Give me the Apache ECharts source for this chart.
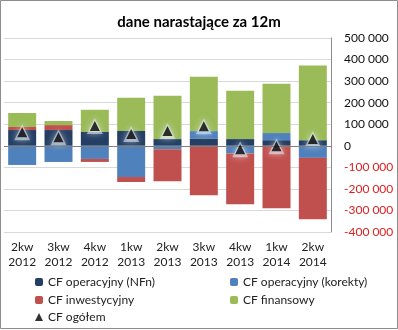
<!DOCTYPE html>
<html>
<head>
<meta charset="utf-8">
<script src="https://cdn.jsdelivr.net/npm/echarts@6/dist/echarts.min.js"></script>
<style>html,body{margin:0;padding:0;background:#fff}#c{width:398px;height:330px}</style>
</head>
<body>
<div id="c"></div>
<script>
var categories = ['2kw\n2012','3kw\n2012','4kw\n2012','1kw\n2013','2kw\n2013','3kw\n2013','4kw\n2013','1kw\n2014','2kw\n2014'];
var cfNFn = [73000, 73000, 64000, 69000, 31000, 34000, 31000, 26000, 26000];
var cfKorekty = [-89000, -75000, -61000, -145000, -16000, 34000, -36000, 33000, -56000];
var cfInwest = [14000, 23000, -14000, -23000, -148000, -229000, -235000, -290000, -285000];
var cfFinans = [65000, 19000, 103000, 154000, 201000, 252000, 224000, 229000, 346000];
var cfOgolem = [63000, 40000, 92000, 55000, 68000, 91000, -16000, -2000, 31000];
var names = ['CF operacyjny (NFn)','CF operacyjny (korekty)','CF inwestycyjny','CF finansowy','CF ogółem'];

var FONT = 'Lato';
function fmt(v){
  var s = String(Math.abs(v)).replace(/\B(?=(\d{3})+(?!\d))/g, ' ');
  return v < 0 ? '{n|-' + s + '}' : s;
}
var chart = echarts.init(document.getElementById('c'), null, {renderer:'canvas'});
function bar(name, data, color){
  return {name:name, type:'bar', stack:'cf', data:data, barCategoryGap:'23%',
    itemStyle:{color:color}, emphasis:{disabled:true}};
}
function leg(name, left, top){
  return {data:[name], left:left, top:top, itemWidth:8, itemHeight:8, padding:0,
    textStyle:{fontFamily:FONT, fontSize:12, color:'#222'}};
}
chart.setOption({
  animation:false,
  textStyle:{fontFamily:FONT},
  title:{text:'dane narastające za 12m', left:'center', top:10,
    textStyle:{fontFamily:FONT, fontSize:15, fontWeight:'bold', color:'#000'}},
  graphic:[{type:'rect', shape:{x:0.5,y:0.5,width:397,height:328}, style:{fill:'none', stroke:'#8c8c8c', lineWidth:1}, silent:true}],
  grid:{left:4, right:67, top:38, bottom:98},
  legend:[
    leg(names[0], 35, 276), leg(names[2], 35, 294), leg(names[4], 35, 311),
    leg(names[1], 230, 276), leg(names[3], 230, 294)
  ],
  xAxis:{type:'category', data:categories, axisLine:{show:false, onZero:false}, axisTick:{show:false},
    axisLabel:{fontFamily:FONT, fontSize:12, color:'#222', lineHeight:15, margin:8, interval:0}},
  yAxis:{type:'value', position:'right', min:-400000, max:500000, interval:100000,
    axisLine:{show:true, lineStyle:{color:'#8c8c8c'}}, axisTick:{show:false},
    splitLine:{lineStyle:{color:'#d9d9d9'}},
    axisLabel:{fontFamily:FONT, fontSize:12, color:'#111', margin:13, formatter:fmt,
      rich:{n:{color:'#e02020', fontFamily:FONT, fontSize:12}}}},
  series:[
    Object.assign(bar(names[0], cfNFn, '#243f63'), {markLine:{silent:true, symbol:'none', label:{show:false},
      lineStyle:{color:'#7f7f7f', type:'solid', width:1}, data:[{yAxis:0}]}}),
    bar(names[1], cfKorekty, '#4f81bd'),
    bar(names[2], cfInwest, '#c0504d'),
    bar(names[3], cfFinans, '#9bbb59'),
    {name:'halo', type:'scatter', data:cfOgolem, symbol:'triangle', symbolSize:[16,16], silent:true,
      itemStyle:{color:'rgba(230,238,248,0.7)', shadowColor:'rgba(235,242,250,0.9)', shadowBlur:6}, z:4, emphasis:{disabled:true}},
    {name:names[4], type:'scatter', data:cfOgolem, symbol:'triangle', symbolSize:[10,10],
      itemStyle:{color:'#000'}, z:5, emphasis:{disabled:true}}
  ]
});
</script>
</body>
</html>
